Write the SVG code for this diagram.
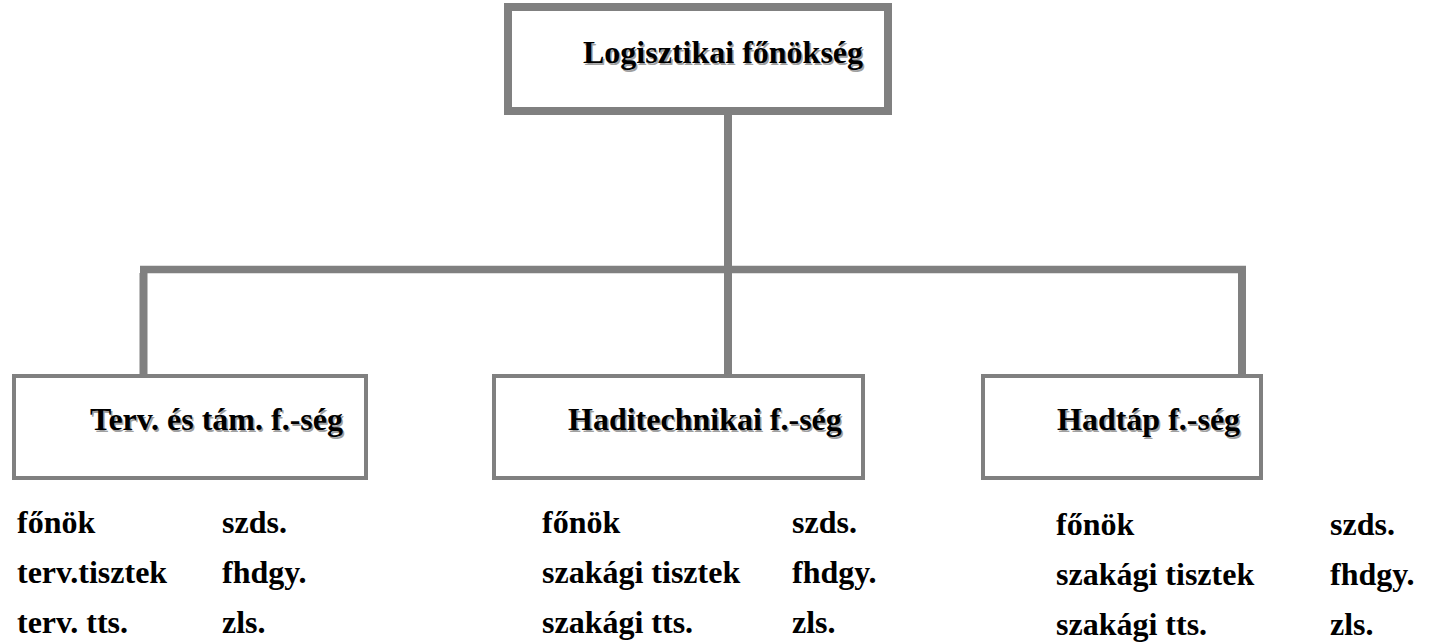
<svg xmlns="http://www.w3.org/2000/svg" width="1430" height="644" viewBox="0 0 1430 644">
  <style>
    .box { fill: #ffffff; stroke: #808080; }
    .line { stroke: #808080; fill: none; stroke-linecap: butt; }
    text { font-family: "Liberation Serif", Tinos, "Times New Roman", Times, "DejaVu Serif", serif; font-weight: 700; font-size: 32px; fill: #000000; }
    .shadow { fill: #a0a0a0; }
  </style>
  <rect width="1430" height="644" fill="#ffffff"/>

  <!-- connectors -->
  <g id="connectors">
    <line class="line" x1="728" y1="115" x2="728" y2="376" stroke-width="8"/>
    <line class="line" x1="140" y1="269.5" x2="1246" y2="269.5" stroke-width="7.5"/>
    <line class="line" x1="143.5" y1="273" x2="143.5" y2="378" stroke-width="8"/>
    <line class="line" x1="1242" y1="273" x2="1242" y2="378" stroke-width="8"/>
  </g>

  <!-- top node -->
  <g id="logisztikai-fonokseg">
    <rect class="box" x="508" y="7" width="380" height="104" stroke-width="8"/>
    <text class="shadow" x="584.5" y="64.5">Logisztikai főnökség</text>
    <text x="583" y="63">Logisztikai főnökség</text>
  </g>

  <!-- branch nodes -->
  <g id="terv-es-tam">
    <rect class="box" x="14" y="376" width="352" height="102" stroke-width="4"/>
    <text class="shadow" x="91.5" y="431.5">Terv. és tám. f.-ség</text>
    <text x="90" y="430">Terv. és tám. f.-ség</text>
  </g>

  <g id="haditechnikai">
    <rect class="box" x="494" y="376" width="369" height="102" stroke-width="4"/>
    <text class="shadow" x="569.5" y="431.5">Haditechnikai f.-ség</text>
    <text x="568" y="430">Haditechnikai f.-ség</text>
  </g>

  <g id="hadtap">
    <rect class="box" x="983" y="376" width="278" height="102" stroke-width="4"/>
    <text class="shadow" x="1058.5" y="431.5">Hadtáp f.-ség</text>
    <text x="1057" y="430">Hadtáp f.-ség</text>
  </g>

  <!-- staff lists under each branch -->
  <g id="lista-terv">
    <text x="17" y="533">főnök</text>
    <text x="17" y="583">terv.tisztek</text>
    <text x="17" y="633">terv. tts.</text>
    <text x="222" y="533">szds.</text>
    <text x="222" y="583">fhdgy.</text>
    <text x="222" y="633">zls.</text>
  </g>

  <g id="lista-haditechnikai">
    <text x="542" y="533">főnök</text>
    <text x="542" y="583">szakági tisztek</text>
    <text x="542" y="633">szakági tts.</text>
    <text x="792" y="533">szds.</text>
    <text x="792" y="583">fhdgy.</text>
    <text x="792" y="633">zls.</text>
  </g>

  <g id="lista-hadtap">
    <text x="1056" y="535">főnök</text>
    <text x="1056" y="585">szakági tisztek</text>
    <text x="1056" y="635">szakági tts.</text>
    <text x="1330" y="535">szds.</text>
    <text x="1330" y="585">fhdgy.</text>
    <text x="1330" y="635">zls.</text>
  </g>
</svg>
